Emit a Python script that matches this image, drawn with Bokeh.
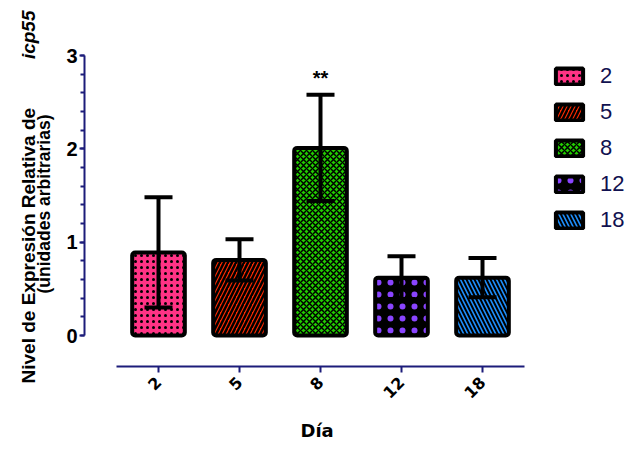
import math
from bokeh.plotting import figure
from bokeh.layouts import row
from bokeh.models import (ColumnDataSource, Range1d, FixedTicker, SingleIntervalTicker,
                          Whisker, TeeHead, Title, Legend, LegendItem, Div)
from bokeh.core.properties import value
from bokeh.embed import file_html
from bokeh.resources import INLINE

# ---- data ----
days = ["2", "5", "8", "12", "18"]
means = [0.89, 0.81, 2.01, 0.62, 0.62]
errors = [0.59, 0.22, 0.57, 0.23, 0.21]
significance = ["", "", "**", "", ""]

y_title_1 = "Nivel de Expresión Relativa de"
y_title_gene = "icp55"
y_title_2 = "(unidades arbitrarias)"
x_title = "Día"

fill_colors = ["#FF3385", "#FF2A00", "#22CC00", "#000000", "#1E90FF"]
hatch_patterns = [".", "/", "x", ".", "\\"]
hatch_colors = ["#000000", "#000000", "#000000", "#8A44FF", "#000000"]
hatch_scales = [6, 8, 6, 12, 8]
hatch_weights = [1.5, 2.5, 1.5, 4.0, 2.0]

xs = list(range(len(days)))
upper = [m + e for m, e in zip(means, errors)]
lower = [m - e for m, e in zip(means, errors)]

src = ColumnDataSource(dict(x=xs, day=days, mean=means, upper=upper, lower=lower,
                            fill=fill_colors, hp=hatch_patterns, hc=hatch_colors,
                            hs=hatch_scales, hw=hatch_weights, sig=significance))

NAVY = "#1C1C7A"
LEFT_W = 60
H = 451

# ---- left strip holding the two-line y-axis title (HTML text, rotated) ----
rot = ("position:absolute;left:{x}px;top:{y}px;white-space:nowrap;"
       "transform:translate(-50%,-50%) rotate(-90deg);")
div_html = (
    f'<div style="position:relative;width:{LEFT_W}px;height:{H}px;'
    "font-family:'Liberation Sans',Arial,sans-serif;font-weight:bold;"
    'color:black;line-height:1;">'
    f'<div style="{rot.format(x=27.5, y=196.5)}width:373px;display:flex;'
    'justify-content:space-between;align-items:center;font-size:19px;">'
    f'<span>{y_title_1}</span><i>{y_title_gene}</i></div>'
    f'<div style="{rot.format(x=45, y=204)}font-size:17.5px;">{y_title_2}</div>'
    "</div>"
)
ytitle = Div(text=div_html, width=LEFT_W, height=H, margin=(0, 0, 0, 0))

# ---- main chart (frame runs to the right edge so the legend sits inside it) ----
PX_PER_BAR = 81.0
FRAME_W = 636 - 84
x_start = -0.9136
p = figure(width=636 - LEFT_W, height=H, output_backend="svg", toolbar_location=None,
           x_range=Range1d(x_start, x_start + FRAME_W / PX_PER_BAR),
           y_range=Range1d(-0.332, 3.0),
           min_border_left=84 - LEFT_W, min_border_right=0, min_border_top=55,
           min_border_bottom=85, outline_line_color=None, margin=(0, 0, 0, 0))
p.grid.visible = False

bars = p.vbar(x="x", top="mean", bottom=0, width=0.65, source=src,
              fill_color="fill", line_color="black", line_width=4,
              hatch_pattern="hp", hatch_color="hc", hatch_scale="hs", hatch_weight="hw",
              border_radius=3)

wh = Whisker(base="x", upper="upper", lower="lower", source=src,
             line_color="black", line_width=4, level="overlay",
             upper_head=TeeHead(size=28, line_width=4, line_color="black"),
             lower_head=TeeHead(size=28, line_width=4, line_color="black"))
p.add_layout(wh)

p.text(x="x", y="upper", text="sig", source=src, text_align="center",
       text_baseline="bottom", y_offset=-6, text_font=value("Liberation Sans"),
       text_font_style="bold", text_font_size="20px", text_color="black")

# y axis
ya = p.yaxis[0]
ya.ticker = SingleIntervalTicker(interval=1, num_minor_ticks=5)
ya.bounds = (0, 3)
ya.axis_line_color = NAVY
ya.axis_line_width = 2
ya.major_tick_line_color = NAVY
ya.minor_tick_line_color = NAVY
ya.major_tick_line_width = 2
ya.minor_tick_line_width = 2
ya.major_tick_in = 0
ya.major_tick_out = 5
ya.minor_tick_in = 0
ya.minor_tick_out = 4
ya.major_label_text_font = "Liberation Sans"
ya.major_label_text_font_style = "bold"
ya.major_label_text_font_size = "20px"
ya.major_label_text_color = "black"
ya.major_label_standoff = 2

# x axis
xa = p.xaxis[0]
xa.ticker = FixedTicker(ticks=xs)
xa.major_label_overrides = {i: d for i, d in zip(xs, days)}
xa.bounds = (-0.5185, 4.5185)
xa.axis_line_color = NAVY
xa.axis_line_width = 2
xa.major_tick_line_color = NAVY
xa.major_tick_line_width = 2
xa.major_tick_in = 0
xa.major_tick_out = 6
xa.minor_tick_line_color = None
xa.major_label_orientation = math.pi / 4
xa.major_label_text_font = "DejaVu Sans"
xa.major_label_text_font_style = "bold"
xa.major_label_text_font_size = "16px"
xa.major_label_text_color = "black"
xa.major_label_standoff = 7

# x axis title
p.add_layout(Title(text=x_title, align="left", offset=216, standoff=22,
                   text_font="DejaVu Sans", text_font_style="bold",
                   text_font_size="18px", text_color="black"), "below")

# legend (inside the wide frame, to the right of the bars)
items = [LegendItem(label=d, renderers=[bars], index=i) for i, d in enumerate(days)]
legend = Legend(items=items, location=(468, 133), orientation="vertical",
                glyph_width=34, glyph_height=20, label_standoff=14, spacing=10,
                padding=0, margin=0, border_line_color=None, background_fill_alpha=0,
                label_text_font="Liberation Sans", label_text_font_size="22px",
                label_text_color="#111150", label_height=24)
p.add_layout(legend)

layout = row(ytitle, p, spacing=0)
open("out.html", "w").write(file_html(layout, INLINE))
